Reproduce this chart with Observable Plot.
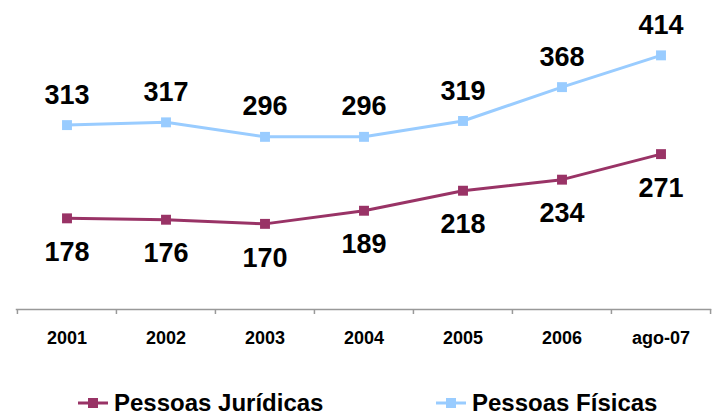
<!DOCTYPE html>
<html>
<head>
<meta charset="utf-8">
<script src="https://cdn.jsdelivr.net/npm/d3@7"></script>
<script src="https://cdn.jsdelivr.net/npm/@observablehq/plot@0.6"></script>
<style>
  html, body { margin: 0; padding: 0; background: #fff; }
  #wrap { position: relative; width: 714px; height: 415px; font-family: Arial, "Liberation Sans", sans-serif; }
  #chart svg { display: block; }
  .leg { position: absolute; top: 389px; display: flex; align-items: center; font-weight: bold; font-size: 24px; color: #000; line-height: 28px; }
  .leg svg { display: block; margin-right: 6px; }
</style>
</head>
<body>
<div id="wrap">
  <div id="chart"></div>
</div>
<script>
const categories = ["2001", "2002", "2003", "2004", "2005", "2006", "ago-07"];
const pessoasFisicas = [313, 317, 296, 296, 319, 368, 414];
const pessoasJuridicas = [178, 176, 170, 189, 218, 234, 271];
const seriesNames = ["Pessoas Jurídicas", "Pessoas Físicas"];
const seriesColors = ["#993366", "#99CCFF"];

const fis = categories.map((c, i) => ({cat: c, v: pessoasFisicas[i]}));
const jur = categories.map((c, i) => ({cat: c, v: pessoasJuridicas[i]}));

const W = 714, H = 360, ML = 16, MR = 4, MT = 30, MB = 51;
const bw = (W - ML - MR) / categories.length;
const font = 'Arial, "Liberation Sans", sans-serif';

const chart = Plot.plot({
  width: W,
  height: H,
  marginLeft: ML,
  marginRight: MR,
  marginTop: MT,
  marginBottom: MB,
  style: {fontFamily: font, background: "#fff"},
  x: {type: "band", domain: categories, padding: 0, label: null},
  y: {domain: [46, 450], axis: null},
  marks: [
    Plot.frame({anchor: "bottom", stroke: "#999", strokeWidth: 1.5, strokeDasharray: "1.5,1"}),
    // boundary ticks (left edge of each category band)
    Plot.axisX({ticks: categories, text: null, tickSize: 5, dx: -bw / 2, stroke: "#999", strokeWidth: 1.5, label: null}),
    // closing tick at the right end of the last band
    Plot.axisX({ticks: categories.slice(-1), text: null, tickSize: 5, dx: bw / 2, stroke: "#999", strokeWidth: 1.5, label: null}),
    Plot.axisX({tickSize: 0, tickPadding: 22, fontSize: 18, fontWeight: "bold", fill: "#000", label: null}),
    Plot.line(fis, {x: "cat", y: "v", stroke: seriesColors[1], strokeWidth: 3}),
    Plot.line(jur, {x: "cat", y: "v", stroke: seriesColors[0], strokeWidth: 3}),
    Plot.dot(fis, {x: "cat", y: "v", symbol: "square", r: 5.6, fill: seriesColors[1], stroke: null}),
    Plot.dot(jur, {x: "cat", y: "v", symbol: "square", r: 5.6, fill: seriesColors[0], stroke: null}),
    Plot.text(fis, {x: "cat", y: "v", text: d => String(d.v), dy: -30, fontSize: 27, fontWeight: "bold", fill: "#000"}),
    Plot.text(jur, {x: "cat", y: "v", text: d => String(d.v), dy: 34, fontSize: 27, fontWeight: "bold", fill: "#000"})
  ]
});
document.getElementById("chart").appendChild(chart);

// legend
const wrap = document.getElementById("wrap");
const legPos = [78, 436];
seriesNames.forEach((name, i) => {
  const div = document.createElement("div");
  div.className = "leg";
  div.style.left = legPos[i] + "px";
  div.innerHTML = `<svg width="30" height="12"><line x1="0" x2="30" y1="6" y2="6" stroke="${seriesColors[i]}" stroke-width="3"/><rect x="10" y="1" width="10" height="10" fill="${seriesColors[i]}"/></svg><span>${name}</span>`;
  wrap.appendChild(div);
});
</script>
</body>
</html>
